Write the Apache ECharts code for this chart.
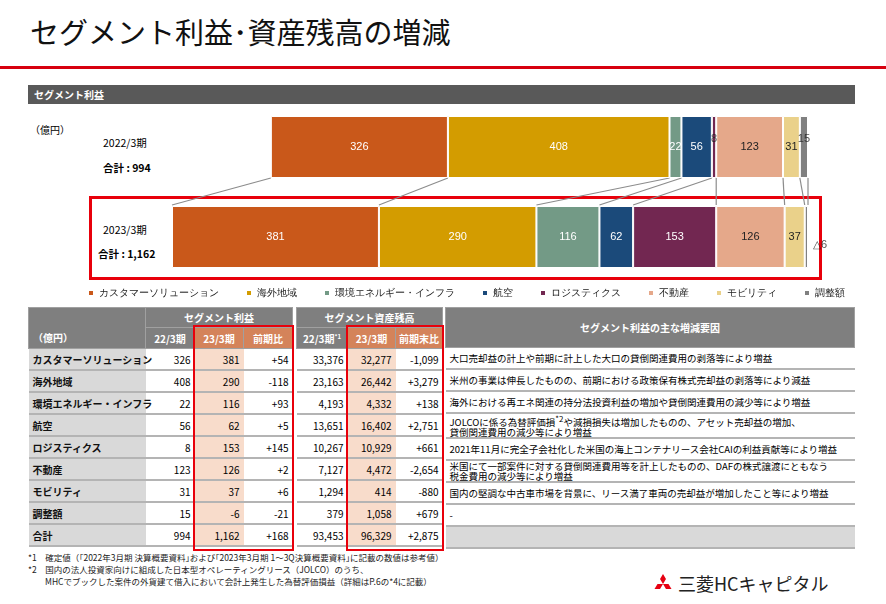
<!DOCTYPE html>
<html><head><meta charset="utf-8">
<script src="https://cdn.jsdelivr.net/npm/echarts@6/dist/echarts.min.js"></script>
<style>
body{margin:0;width:886px;height:604px;position:relative;background:#fff;font-family:"Noto Sans CJK JP",sans-serif;overflow:hidden}
.abs{position:absolute}
table{border-collapse:collapse;position:absolute;table-layout:fixed;font-size:10px}
td{padding:0 4px;height:20px;border-bottom:2px solid #b4b4b4;text-align:right;white-space:nowrap}
th{background:#7f7f7f;color:#fff;font-weight:bold;font-size:10px;border:1px solid #a0a0a0}
td.lab{background:#d9d9d9;text-align:left;font-weight:bold;color:#111}
td.hl{background:#f8dccb}
th.hl{background:#d4835a}
td.txt{text-align:left;font-size:9.5px;line-height:10px;white-space:normal}
.red{position:absolute;border:2px solid #e8000b}
</style></head><body>
<div class="abs" style="left:30px;top:10px;font-size:29px;color:#111">セグメント利益･資産残高の増減</div>
<div class="abs" style="left:0;top:66px;width:886px;height:3px;background:#d7000f"></div>
<div class="abs" style="left:28px;top:85px;width:827px;height:19px;background:#595959;color:#fff;font-size:10px;font-weight:bold;line-height:19px;text-indent:6px">セグメント利益</div>
<div class="abs" style="left:30px;top:122px;font-size:10px">（億円）</div>
<div class="abs" style="left:103px;top:135px;font-size:10.5px">2022/3期</div>
<div class="abs" style="left:103px;top:160px;font-size:10.5px;font-weight:bold">合計 : 994</div>
<div class="abs" style="left:103px;top:222px;font-size:10.5px">2023/3期</div>
<div class="abs" style="left:98px;top:246px;font-size:10.5px;font-weight:bold">合計 : 1,162</div>
<div class="red" style="left:89px;top:196px;width:727px;height:78px;border-width:3px"></div>
<div id="chart" class="abs" style="left:0;top:100px;width:886px;height:205px"></div>
<div id="tables"></div>
<div class="red" style="left:193px;top:325px;width:97px;height:222px"></div>
<div class="red" style="left:346px;top:325px;width:94px;height:222px"></div>
<div class="abs" style="left:28px;top:551px;font-size:8.5px;line-height:12px;color:#222">
*1　確定値（｢2022年3月期 決算概要資料｣および｢2023年3月期 1～3Q決算概要資料｣に記載の数値は参考値）<br>
*2　国内の法人投資家向けに組成した日本型オペレーティングリース（JOLCO）のうち、<br>
　　MHCでブックした案件の外貨建て借入において会計上発生した為替評価損益（詳細はP.6の*4に記載）</div>
<svg class="abs" style="left:652px;top:574px" width="22" height="20" viewBox="0 0 22 20">
<polygon points="11,0 14,5 11,10 8,5" fill="#e60012"/>
<polygon points="11,10 5.5,10 2.5,15 8,15" fill="#e60012"/>
<polygon points="11,10 16.5,10 19.5,15 14,15" fill="#e60012" transform="translate(0,0)"/>
</svg>
<div class="abs" style="left:678px;top:570px;font-size:18px;color:#222">三菱HCキャピタル</div>
<script>
const segments = ['カスタマーソリューション','海外地域','環境エネルギー・インフラ','航空','ロジスティクス','不動産','モビリティ','調整額'];
const colors = ['#c9581a','#d39c00','#739a86','#1b4a7a','#722751','#e5a88a','#ead18a','#808080'];
const periods = ['2022/3期','2023/3期'];
const profit22 = [326,408,22,56,8,123,31,15];
const profit23 = [381,290,116,62,153,126,37,-6];
const total22 = 994, total23 = 1162;
const diffProfit = ['+54','-118','+93','+5','+145','+2','+6','-21','+168'];
const assets22 = ['33,376','23,163','4,193','13,651','10,267','7,127','1,294','379','93,453'];
const assets23 = ['32,277','26,442','4,332','16,402','10,929','4,472','414','1,058','96,329'];
const diffAssets = ['-1,099','+3,279','+138','+2,751','+661','-2,654','-880','+679','+2,875'];
const reasons = [
 '大口売却益の計上や前期に計上した大口の貸倒関連費用の剥落等により増益',
 '米州の事業は伸長したものの、前期における政策保有株式売却益の剥落等により減益',
 '海外における再エネ関連の持分法投資利益の増加や貸倒関連費用の減少等により増益',
 'JOLCOに係る為替評価損<sup>*2</sup>や減損損失は増加したものの、アセット売却益の増加、<br>貸倒関連費用の減少等により増益',
 '2021年11月に完全子会社化した米国の海上コンテナリース会社CAIの利益貢献等により増益',
 '米国にて一部案件に対する貸倒関連費用等を計上したものの、DAFの株式譲渡にともなう<br>税金費用の減少等により増益',
 '国内の堅調な中古車市場を背景に、リース満了車両の売却益が増加したこと等により増益',
 '-',''];

// bars: 2022 is right-aligned to the 2023 bar
const abs23 = profit23.map(Math.abs);
const sum23 = abs23.reduce((a,b)=>a+b,0);
const offset22 = sum23 - profit22.reduce((a,b)=>a+b,0);
const darkText = [false,false,false,false,false,true,true,true];
const series = [{
  type:'bar', stack:'s', silent:true, barWidth:62,
  itemStyle:{color:'transparent'}, data:[offset22,0]
}];
segments.forEach((s,i)=>{
  series.push({
    name:s, type:'bar', stack:'s', barWidth:62,
    itemStyle:{color:colors[i],borderColor:'#fff',borderWidth:1},
    data:[{value:profit22[i],raw:profit22[i]},{value:abs23[i],raw:profit23[i]}],
    label:{show:true,fontSize:11,fontFamily:'Liberation Sans',
      color:darkText[i]?'#222':'#fff',
      formatter:p=>{
        const v=p.data.raw;
        if(p.dataIndex===0 && v<20) return '';
        if(p.dataIndex===1 && i===7) return '';
        return v;
      }}
  });
});
// small values labelled above / beside
const sum = (arr,n)=>arr.slice(0,n).reduce((a,b)=>a+Math.abs(b),0);
const extra = [];
profit22.forEach((v,i)=>{ if(v<20) extra.push({value:[offset22+sum(profit22,i)+v/2,0],t:String(v),pos:'top'}); });
extra.push({value:[sum23,1],t:'△'+Math.abs(profit23[7]),pos:'right'});
series.push({type:'scatter',symbolSize:0,silent:true,data:extra,
  label:{show:true,color:'#222',fontSize:11,fontFamily:'Liberation Sans',formatter:p=>p.data.t,
    position:'top'},
  labelLayout:p=>extra[p.dataIndex].pos==='right'?{dx:12,dy:18}:{dy:2}});
// connecting lines between boundaries
const bounds = [];
for(let i=0;i<segments.length;i++){
  bounds.push([offset22+sum(profit22,i+1), sum(profit23,i+1)]);
}
bounds.unshift([offset22,0]);
series.push({type:'custom',silent:true,z:1,data:bounds,
  renderItem:(params,api)=>{
    const a=api.coord([api.value(0),0]), b=api.coord([api.value(1),1]);
    return {type:'line',shape:{x1:a[0],y1:a[1]+31,x2:b[0],y2:b[1]-32},
      style:{stroke:'#8c8c8c',lineWidth:1.2}};
  }});
const chart = echarts.init(document.getElementById('chart'));
chart.setOption({
  animation:false,
  grid:{left:172,right:78,top:2,height:180},
  xAxis:{type:'value',min:0,max:sum23,show:false},
  yAxis:{type:'category',data:periods,inverse:true,show:false},
  legend:{top:183,left:82,itemWidth:6,itemHeight:6,itemGap:26,icon:'rect',
    textStyle:{fontSize:9.5,color:'#222'},data:segments},
  series:series
});

// tables
const rows = segments.concat(['合計']);
const fmt = v=>v.toLocaleString('en-US');
let h1 = '<table style="left:28px;top:307px;width:264px"><colgroup><col style="width:117px"><col style="width:49px"><col style="width:49px"><col style="width:49px"></colgroup>'+
 '<tr><th rowspan="2" style="text-align:left;vertical-align:bottom;padding:0 4px 3px">（億円）</th><th colspan="3" style="height:17px">セグメント利益</th></tr>'+
 '<tr><th style="height:18px">22/3期</th><th class="hl">23/3期</th><th class="hl">前期比</th></tr>';
rows.forEach((r,i)=>{
  const a = i<8?profit22[i]:total22, b = i<8?profit23[i]:total23;
  h1 += `<tr><td class="lab">${r}</td><td>${fmt(a)}</td><td class="hl">${fmt(b)}</td><td>${diffProfit[i]}</td></tr>`;
});
h1 += '</table>';
let h2 = '<table style="left:296px;top:307px;width:146px"><colgroup><col style="width:51px"><col style="width:48px"><col style="width:47px"></colgroup>'+
 '<tr><th colspan="3" style="height:17px">セグメント資産残高</th></tr>'+
 '<tr><th style="height:18px">22/3期<sup style="font-size:6px">*1</sup></th><th class="hl">23/3期</th><th class="hl">前期末比</th></tr>';
rows.forEach((r,i)=>{ h2 += `<tr><td>${assets22[i]}</td><td class="hl">${assets23[i]}</td><td>${diffAssets[i]}</td></tr>`; });
h2 += '</table>';
let h3 = '<table style="left:445px;top:307px;width:410px"><tr><th style="height:37px">セグメント利益の主な増減要因</th></tr>';
rows.forEach((r,i)=>{ h3 += `<tr><td class="txt"${i===8?' style="background:#d9d9d9"':''}>${reasons[i]}</td></tr>`; });
h3 += '</table>';
document.getElementById('tables').innerHTML = h1+h2+h3;
</script>
</body></html>
